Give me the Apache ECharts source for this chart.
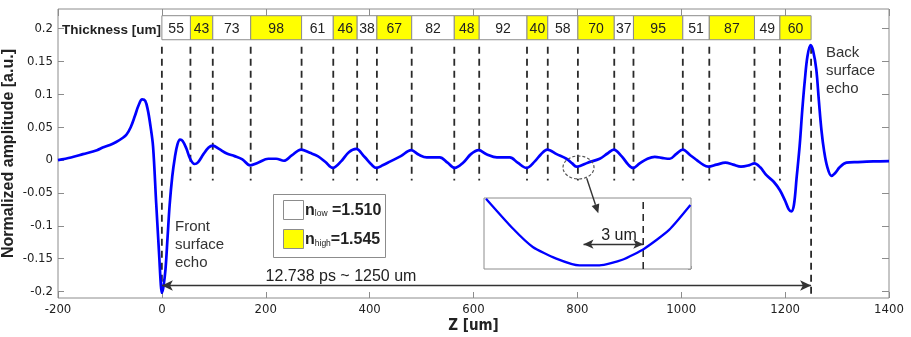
<!DOCTYPE html>
<html>
<head>
<meta charset="utf-8">
<script src="https://cdn.jsdelivr.net/npm/echarts@6/dist/echarts.min.js"></script>
<style>
  html, body { margin: 0; padding: 0; background: #fff; }
  #chart { width: 911px; height: 337px; }
</style>
</head>
<body>
<div id="chart"></div>
<script>
// THz echo signal
const echoZ = [-200, -175, -152, -125, -114, -100, -88, -75, -68, -60, -52, -45, -38, -32, -27, -22, -17, -11, -5, -2, 0,
  3, 7, 11, 15, 20, 25, 30, 35, 40, 47, 55, 63, 70, 80, 90, 98, 110, 125, 140, 155, 170, 185, 205, 220, 235,
  250, 268, 285, 300, 315, 329, 345, 360, 374, 390, 405, 413, 425, 440, 460, 480, 495, 510, 535, 550, 564,
  580, 595, 610, 625, 645, 670, 685, 702, 718, 730, 742, 760, 779, 790, 798, 805, 820, 843, 858, 870, 885,
  898, 907, 920, 935, 949, 965, 978, 990, 1003, 1018, 1030, 1042, 1052, 1068, 1085, 1100, 1115, 1130, 1141,
  1152, 1164, 1178, 1190, 1200, 1207, 1212, 1217, 1222, 1228, 1233, 1238, 1243, 1249, 1254, 1260, 1265,
  1270, 1275, 1281, 1289, 1296, 1305, 1318, 1340, 1370, 1400];
const echoAmp = [0, 0.004, 0.009, 0.015, 0.019, 0.023, 0.0275, 0.034, 0.039, 0.050, 0.067, 0.083, 0.0925, 0.090, 0.076, 0.052, 0.021, -0.065, -0.148, -0.19, -0.202,
  -0.193, -0.166, -0.117, -0.068, -0.025, 0.004, 0.024, 0.031, 0.029, 0.018, 0.001, -0.006, -0.003, 0.009, 0.019, 0.022, 0.017, 0.010, 0.006, 0.001, -0.008, -0.004, 0.002, 0.002, -0.001,
  0.007, 0.016, 0.011, 0.006, -0.003, -0.012, -0.002, 0.012, 0.017, 0.005, -0.008, -0.012, -0.008, -0.002, 0.006, 0.015, 0.008, 0.004, 0.004, -0.004, -0.012,
  -0.004, 0.009, 0.015, 0.009, 0.004, 0.004, -0.004, -0.012, -0.002, 0.009, 0.016, 0.009, 0.002, -0.005, -0.010, -0.009, -0.004, 0.002, 0.010, 0.016, 0.006,
  -0.007, -0.012, -0.005, 0.002, 0.005, 0.003, 0.002, 0.009, 0.016, 0.007, 0.000, -0.007, -0.010, -0.007, -0.004, -0.007, -0.010, -0.008, -0.005,
  -0.011, -0.023, -0.033, -0.046, -0.062, -0.075, -0.078, -0.068, -0.028, 0.022, 0.076, 0.122, 0.158, 0.175, 0.166, 0.138, 0.090,
  0.045, 0.014, -0.010, -0.024, -0.020, -0.011, -0.004, -0.003, -0.002, -0.0015];

const layerThickness = [55, 43, 73, 98, 61, 46, 38, 67, 82, 48, 92, 40, 58, 70, 37, 95, 51, 87, 49, 60];
const layerIsHigh = [0, 1, 0, 1, 0, 1, 0, 1, 0, 1, 0, 1, 0, 1, 0, 1, 0, 1, 0, 1];
const yTicks = [-0.2, -0.15, -0.1, -0.05, 0, 0.05, 0.1, 0.15, 0.2];

// zoomed view around z = 800 um
const insetZ = [793.1, 794.45, 795.45, 796.6, 797.8, 798.8, 799.95, 801.07, 802.3, 803.37];
const insetAmp = [0.99, 0.57, 0.31, 0.15, 0.05, 0.05, 0.13, 0.29, 0.55, 0.90];
const insetMinZ = 798;

const legendNames = ['low', 'high'];
const legendIndex = ['1.510', '1.545'];

// layer boundaries from the thicknesses
const bounds = [0];
layerThickness.forEach(t => bounds.push(bounds[bounds.length - 1] + t));

const FONT = '"Liberation Sans", Arial, sans-serif';
const NARROW = '"Liberation Sans Narrow", "DejaVu Sans Condensed", "Liberation Sans", sans-serif';
const GREY = '#8c8c8c';

const chart = echarts.init(document.getElementById('chart'));

const cellData = layerThickness.map((t, i) => [bounds[i], bounds[i + 1], t, layerIsHigh[i]]);
const boundData = bounds.map((b, i) => [b, (i === 0 || i === bounds.length - 1) ? 1 : 0]);

function arrowHead(x0, y0, x1, y1, len, half) {
  const dx = x1 - x0, dy = y1 - y0, d = Math.hypot(dx, dy);
  const ux = dx / d, uy = dy / d;
  const bx = x1 - ux * len, by = y1 - uy * len;
  return { base: [bx, by], pts: [[x1, y1], [bx - uy * half, by + ux * half], [bx + uy * half, by - ux * half]] };
}
const ptr = arrowHead(586.7, 178.3, 598.3, 213.3, 9, 4);

const noLine = { show: false, onZero: false };

const option = {
  animation: false,
  backgroundColor: '#fff',
  grid: [
    { left: 58, top: 9, width: 831, height: 289, show: true, borderColor: GREY, borderWidth: 1, backgroundColor: '#fff', outerBoundsMode: 'none', containLabel: false },
    { left: 484, top: 198, width: 207, height: 71, show: true, borderColor: GREY, borderWidth: 1, backgroundColor: '#fff', z: 5, outerBoundsMode: 'none', containLabel: false }
  ],
  xAxis: [
    {
      gridIndex: 0, type: 'value', min: -200, max: 1400, interval: 200, position: 'bottom',
      axisLine: noLine, splitLine: { show: false },
      axisTick: { inside: true, length: 6, lineStyle: { color: GREY } },
      axisLabel: { margin: 5, color: '#222', fontSize: 13, fontFamily: NARROW, formatter: v => String(v) },
      name: 'Z [um]', nameLocation: 'middle', nameGap: 21, nameMoveOverlap: false,
      nameTextStyle: { color: '#222', fontSize: 15, fontWeight: 'bold', fontFamily: NARROW, verticalAlign: 'top' }
    },
    {
      gridIndex: 0, type: 'value', min: -200, max: 1400, interval: 200, position: 'top',
      axisLine: noLine, splitLine: { show: false }, axisLabel: { show: false },
      axisTick: { inside: true, length: 7, lineStyle: { color: GREY } }
    },
    {
      gridIndex: 1, type: 'value', min: 793, max: 803.4, interval: 1, position: 'bottom',
      axisLine: noLine, splitLine: { show: false }, axisLabel: { show: false },
      axisTick: { inside: true, length: 3, lineStyle: { color: '#aaa' } }
    }
  ],
  yAxis: [
    {
      gridIndex: 0, type: 'value', min: -0.21, max: 0.23, position: 'left',
      axisLine: noLine, splitLine: { show: false },
      axisTick: { inside: true, length: 6, customValues: yTicks, lineStyle: { color: GREY } },
      axisLabel: { margin: 5, color: '#222', fontSize: 13, fontFamily: NARROW, customValues: yTicks,
        formatter: v => String(Math.round(v * 100) / 100) },
      name: 'Normalized amplitude [a.u.]', nameLocation: 'middle', nameGap: 41, nameMoveOverlap: false,
      nameTextStyle: { color: '#222', fontSize: 16, fontWeight: 'bold', fontFamily: FONT }
    },
    {
      gridIndex: 0, type: 'value', min: -0.21, max: 0.23, position: 'right',
      axisLine: noLine, splitLine: { show: false }, axisLabel: { show: false },
      axisTick: { inside: true, length: 7, customValues: yTicks, lineStyle: { color: GREY } }
    },
    {
      gridIndex: 1, type: 'value', min: 0, max: 1, interval: 0.2, position: 'right',
      axisLine: noLine, splitLine: { show: false }, axisLabel: { show: false },
      axisTick: { inside: true, length: 3, lineStyle: { color: '#aaa' } }
    }
  ],
  series: [
    {
      // layer boundaries (dashed)
      type: 'custom', xAxisIndex: 0, yAxisIndex: 0, z: 2, silent: true,
      data: boundData,
      encode: { x: 0, y: 1 },
      renderItem: (params, api) => {
        const b = api.value(0);
        const top = api.coord([b, 0.1726]);
        const bot = api.coord([b, api.value(1) ? -0.21 : -0.031]);
        return {
          type: 'line',
          shape: { x1: top[0], y1: top[1], x2: bot[0], y2: bot[1] },
          style: { stroke: '#2a2a2a', lineWidth: 1.8, lineDash: [7, 5] }
        };
      }
    },
    {
      type: 'line', xAxisIndex: 0, yAxisIndex: 0, z: 3,
      data: echoZ.map((z, i) => [z, echoAmp[i]]),
      showSymbol: false, smooth: 0.35,
      lineStyle: { color: '#0000ff', width: 2.7 },
      markLine: {
        silent: true, symbol: ['arrow', 'arrow'], symbolSize: [8, 11],
        label: { show: false },
        lineStyle: { color: '#333', width: 1.4, type: 'solid' },
        data: [[{ coord: [0, -0.191] }, { coord: [bounds[bounds.length - 1], -0.191] }]]
      }
    },
    {
      // thickness cells
      type: 'custom', xAxisIndex: 0, yAxisIndex: 0, z: 4, silent: true,
      data: cellData,
      encode: { x: [0, 1], y: 2 },
      renderItem: (params, api) => {
        const p0 = api.coord([api.value(0), 0.2198]);
        const p1 = api.coord([api.value(1), 0.1832]);
        return {
          type: 'group',
          children: [
            { type: 'rect', shape: { x: p0[0], y: p0[1], width: p1[0] - p0[0], height: p1[1] - p0[1] },
              style: { fill: api.value(3) ? '#ffff00' : '#fff', stroke: GREY, lineWidth: 1 } },
            { type: 'text', style: { text: String(api.value(2)), x: (p0[0] + p1[0]) / 2, y: (p0[1] + p1[1]) / 2 + 1,
              align: 'center', verticalAlign: 'middle', font: '14px ' + FONT, fill: '#222' } }
          ]
        };
      }
    },
    {
      // inset boundary
      type: 'line', xAxisIndex: 2, yAxisIndex: 2, z: 6, silent: true,
      data: [[bounds[13], 0], [bounds[13], 1]],
      showSymbol: false,
      lineStyle: { color: '#2a2a2a', width: 1.6, type: [7, 5] }
    },
    {
      type: 'line', xAxisIndex: 2, yAxisIndex: 2, z: 7,
      data: insetZ.map((z, i) => [z, insetAmp[i]]),
      showSymbol: false, smooth: 0.2,
      lineStyle: { color: '#0000ff', width: 2.3 },
      markLine: {
        silent: true, symbol: ['arrow', 'arrow'], symbolSize: [7, 10],
        label: { show: false },
        lineStyle: { color: '#333', width: 1.3, type: 'solid' },
        data: [[{ coord: [insetMinZ, 0.35] }, { coord: [bounds[13], 0.35] }]]
      }
    }
  ],
  graphic: [
    { type: 'text', z: 20, style: { text: 'Thickness [um]', x: 161, y: 30, align: 'right', verticalAlign: 'middle',
      font: 'bold 13.5px ' + FONT, fill: '#222' } },
    { type: 'text', z: 20, style: { text: 'Front\nsurface\necho', x: 175, y: 218, lineHeight: 18,
      font: '15px ' + FONT, fill: '#333' } },
    { type: 'text', z: 20, style: { text: 'Back\nsurface\necho', x: 826, y: 44, lineHeight: 18,
      font: '15px ' + FONT, fill: '#333' } },
    { type: 'text', z: 20, style: { text: '12.738 ps ~ 1250 um', x: 341, y: 277, align: 'center', verticalAlign: 'middle',
      font: '16px ' + FONT, fill: '#222' } },
    { type: 'text', z: 20, style: { text: '3 um', x: 619, y: 236, align: 'center', verticalAlign: 'middle',
      font: '16px ' + FONT, fill: '#222' } },
    { type: 'ellipse', z: 20, shape: { cx: 578.5, cy: 167.5, rx: 15.5, ry: 11.5 },
      style: { fill: 'none', stroke: '#555', lineWidth: 1.2, lineDash: [3, 2] } },
    { type: 'line', z: 20, shape: { x1: 586.7, y1: 178.3, x2: ptr.base[0], y2: ptr.base[1] },
      style: { stroke: '#333', lineWidth: 1.4 } },
    { type: 'polygon', z: 20, shape: { points: ptr.pts }, style: { fill: '#333' } },
    // legend box
    { type: 'rect', z: 20, shape: { x: 273.5, y: 194.5, width: 112, height: 63 }, style: { fill: '#fff', stroke: GREY, lineWidth: 1 } },
    { type: 'rect', z: 21, shape: { x: 283.5, y: 200.5, width: 20, height: 19 }, style: { fill: '#fff', stroke: GREY, lineWidth: 1 } },
    { type: 'rect', z: 21, shape: { x: 283.5, y: 229.5, width: 20, height: 19 }, style: { fill: '#ffff00', stroke: GREY, lineWidth: 1 } },
    ...legendNames.map((nm, i) => ({
      type: 'text', z: 21,
      style: {
        text: '{n|n}{s|' + nm + '}{v|' + (i === 0 ? ' =' : '=') + legendIndex[i] + '}',
        x: 305, y: 210.5 + i * 29.5, verticalAlign: 'middle',
        rich: {
          n: { font: 'bold 16px ' + FONT, fill: '#222' },
          s: { font: '8.5px ' + FONT, fill: '#222', verticalAlign: 'bottom' },
          v: { font: 'bold 16px ' + FONT, fill: '#222' }
        }
      }
    }))
  ]
};

chart.setOption(option);
</script>
</body>
</html>
